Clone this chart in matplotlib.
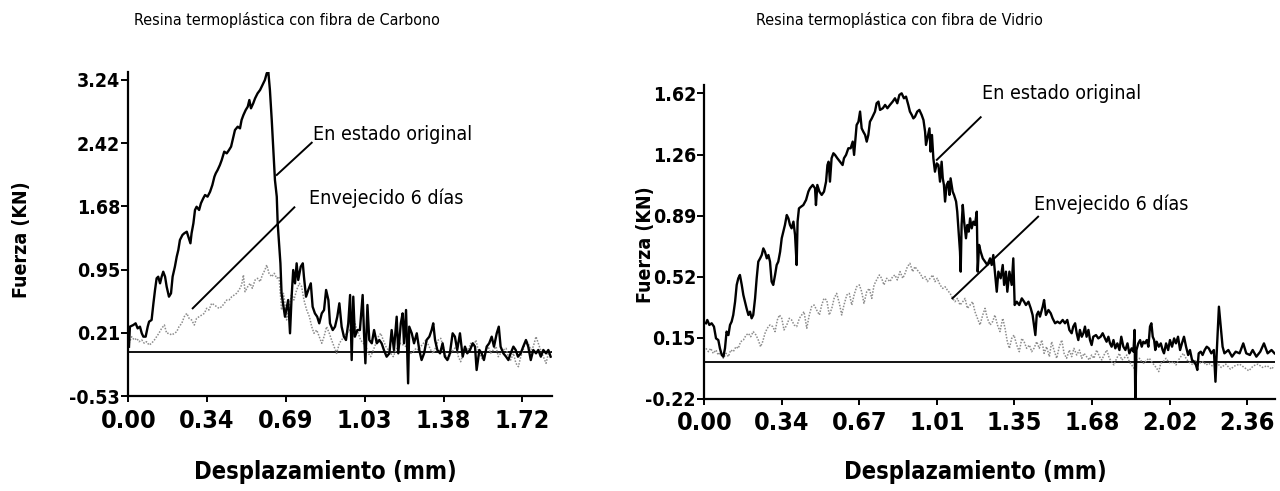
import matplotlib
matplotlib.use("Agg")
import matplotlib.pyplot as plt
from matplotlib import font_manager

W, H = 1280, 491

# --- data: (desplazamiento mm, fuerza KN) ---
carbono_original = [
    (0.003, 0.058), (0.007, 0.297), (0.022, 0.317), (0.032, 0.337), (0.041, 0.277), (0.051, 0.297),
    (0.059, 0.218), (0.066, 0.178), (0.076, 0.178), (0.085, 0.297), (0.091, 0.357), (0.102, 0.377),
    (0.110, 0.576), (0.117, 0.735), (0.124, 0.874), (0.131, 0.893), (0.139, 0.814), (0.146, 0.893),
    (0.153, 0.953), (0.161, 0.893), (0.168, 0.774), (0.178, 0.655), (0.187, 0.695), (0.194, 0.893),
    (0.204, 1.013), (0.212, 1.132), (0.219, 1.212), (0.226, 1.331), (0.237, 1.391), (0.245, 1.411),
    (0.256, 1.430), (0.263, 1.370), (0.272, 1.292), (0.277, 1.411), (0.285, 1.530), (0.292, 1.689),
    (0.299, 1.728), (0.310, 1.689), (0.318, 1.769), (0.328, 1.828), (0.336, 1.868), (0.347, 1.848),
    (0.358, 1.907), (0.368, 1.987), (0.377, 2.086), (0.383, 2.127), (0.391, 2.166), (0.401, 2.226),
    (0.409, 2.285), (0.420, 2.385), (0.431, 2.365), (0.441, 2.405), (0.450, 2.445), (0.460, 2.564),
    (0.467, 2.643), (0.479, 2.683), (0.489, 2.663), (0.496, 2.763), (0.504, 2.822), (0.514, 2.882),
    (0.523, 2.922), (0.530, 3.001), (0.537, 2.902), (0.547, 2.962), (0.555, 3.021), (0.566, 3.081),
    (0.577, 3.121), (0.584, 3.160), (0.591, 3.200), (0.598, 3.240), (0.606, 3.320), (0.613, 3.340),
    (0.620, 3.121), (0.628, 2.763), (0.635, 2.405), (0.642, 2.047), (0.650, 1.848), (0.654, 1.530),
    (0.660, 1.292), (0.666, 1.053), (0.671, 0.695), (0.686, 0.416), (0.700, 0.615), (0.708, 0.218),
    (0.715, 0.655), (0.722, 0.973), (0.730, 0.814), (0.737, 1.053), (0.744, 0.854), (0.755, 1.013),
    (0.764, 1.053), (0.769, 0.893), (0.778, 0.655), (0.788, 0.735), (0.799, 0.814), (0.807, 0.535),
    (0.817, 0.456), (0.827, 0.416), (0.836, 0.337), (0.847, 0.456), (0.857, 0.496), (0.866, 0.735),
    (0.876, 0.615), (0.883, 0.337), (0.895, 0.257), (0.905, 0.297), (0.915, 0.416), (0.924, 0.576),
    (0.934, 0.297), (0.944, 0.178), (0.953, 0.138), (0.963, 0.337), (0.971, 0.675), (0.978, -0.101),
    (0.985, 0.655), (0.992, 0.178), (1.003, 0.257), (1.014, 0.257), (1.026, 0.675), (1.032, 0.218),
    (1.038, -0.140), (1.047, 0.556), (1.055, 0.138), (1.066, 0.099), (1.076, 0.257), (1.088, 0.099),
    (1.099, 0.138), (1.109, 0.099), (1.119, 0.019), (1.131, -0.061), (1.143, -0.021), (1.153, 0.257),
    (1.163, 0.019), (1.175, 0.416), (1.182, -0.021), (1.193, 0.337), (1.201, 0.456), (1.207, 0.099),
    (1.216, 0.496), (1.225, -0.379), (1.230, 0.297), (1.241, 0.218), (1.251, 0.099), (1.263, 0.218),
    (1.274, 0.019), (1.284, -0.101), (1.295, -0.021), (1.306, 0.138), (1.318, 0.178), (1.328, 0.257),
    (1.335, 0.337), (1.343, 0.138), (1.353, 0.019), (1.365, -0.021), (1.376, 0.099), (1.386, -0.061),
    (1.397, -0.101), (1.408, -0.021), (1.420, 0.218), (1.430, 0.178), (1.440, 0.019), (1.452, 0.218),
    (1.464, -0.061), (1.474, 0.059), (1.484, -0.021), (1.496, 0.019), (1.508, 0.099), (1.518, 0.059),
    (1.525, -0.220), (1.537, 0.019), (1.547, -0.021), (1.557, -0.101), (1.569, 0.059), (1.580, 0.099),
    (1.591, 0.178), (1.601, 0.059), (1.613, 0.218), (1.622, 0.297), (1.630, 0.059), (1.642, -0.021),
    (1.654, -0.061), (1.664, -0.101), (1.674, -0.021), (1.686, 0.059), (1.696, 0.019), (1.706, -0.061),
    (1.718, -0.021), (1.729, 0.059), (1.741, 0.138), (1.751, 0.059), (1.762, -0.101), (1.773, 0.019),
    (1.785, -0.021), (1.795, 0.019), (1.806, -0.061), (1.817, 0.019), (1.829, -0.021), (1.839, 0.019),
    (1.849, -0.061),
]

carbono_envejecido = [
    (0.003, 0.099), (0.015, 0.178), (0.026, 0.138), (0.037, 0.158), (0.047, 0.118), (0.059, 0.138),
    (0.070, 0.099), (0.080, 0.118), (0.091, 0.078), (0.102, 0.099), (0.114, 0.138), (0.124, 0.178),
    (0.134, 0.218), (0.146, 0.277), (0.158, 0.317), (0.168, 0.218), (0.178, 0.218), (0.190, 0.198),
    (0.202, 0.218), (0.212, 0.237), (0.222, 0.297), (0.234, 0.337), (0.245, 0.416), (0.256, 0.456),
    (0.266, 0.397), (0.277, 0.377), (0.289, 0.317), (0.299, 0.397), (0.310, 0.416), (0.321, 0.436),
    (0.333, 0.456), (0.343, 0.516), (0.353, 0.496), (0.365, 0.576), (0.377, 0.556), (0.387, 0.535),
    (0.397, 0.516), (0.409, 0.535), (0.420, 0.576), (0.431, 0.615), (0.441, 0.615), (0.453, 0.655),
    (0.464, 0.675), (0.474, 0.695), (0.485, 0.735), (0.496, 0.794), (0.504, 0.914), (0.511, 0.714),
    (0.523, 0.774), (0.533, 0.814), (0.543, 0.755), (0.555, 0.854), (0.566, 0.874), (0.577, 0.834),
    (0.587, 0.914), (0.598, 0.973), (0.606, 1.033), (0.616, 0.934), (0.628, 0.893), (0.639, 0.934),
    (0.650, 0.874), (0.660, 0.893), (0.671, 0.496), (0.679, 0.695), (0.686, 0.576), (0.693, 0.377),
    (0.705, 0.535), (0.715, 0.695), (0.725, 0.615), (0.737, 0.735), (0.749, 0.814), (0.759, 0.774),
    (0.769, 0.615), (0.781, 0.496), (0.793, 0.416), (0.803, 0.297), (0.813, 0.218), (0.825, 0.257),
    (0.836, 0.178), (0.847, 0.099), (0.857, 0.178), (0.868, 0.297), (0.880, 0.218), (0.890, 0.138),
    (0.901, 0.059), (0.912, -0.021), (0.924, 0.099), (0.934, 0.138), (0.944, 0.178), (0.956, 0.218),
    (0.968, 0.257), (0.978, 0.218), (0.988, 0.377), (0.997, 0.297), (1.007, 0.218), (1.017, 0.138),
    (1.029, 0.099), (1.041, 0.059), (1.051, -0.021), (1.061, -0.061), (1.073, 0.019), (1.084, 0.099),
    (1.095, 0.178), (1.105, 0.218), (1.116, 0.138), (1.128, 0.059), (1.138, 0.019), (1.149, -0.021),
    (1.160, -0.061), (1.172, 0.019), (1.182, 0.059), (1.192, 0.099), (1.204, 0.078), (1.216, 0.059),
    (1.226, 0.019), (1.236, -0.021), (1.248, -0.001), (1.260, 0.039), (1.270, 0.019), (1.280, 0.059),
    (1.292, 0.099), (1.303, 0.138), (1.314, 0.078), (1.324, 0.019), (1.335, -0.021), (1.347, 0.059),
    (1.357, 0.138), (1.368, 0.158), (1.379, 0.059), (1.391, -0.061), (1.401, -0.101), (1.411, -0.021),
    (1.423, 0.019), (1.435, 0.059), (1.445, -0.061), (1.455, -0.121), (1.467, -0.021), (1.478, 0.039),
    (1.489, 0.019), (1.499, 0.099), (1.511, 0.059), (1.522, 0.138), (1.532, 0.019), (1.543, -0.061),
    (1.554, -0.101), (1.566, 0.019), (1.576, 0.059), (1.586, -0.021), (1.598, 0.019), (1.610, 0.059),
    (1.620, -0.061), (1.630, -0.021), (1.642, 0.019), (1.654, 0.039), (1.664, -0.061), (1.674, -0.101),
    (1.686, -0.021), (1.697, -0.140), (1.708, -0.180), (1.718, -0.061), (1.729, 0.019), (1.741, 0.138),
    (1.751, 0.099), (1.762, 0.019), (1.773, 0.059), (1.785, 0.178), (1.795, 0.099), (1.805, 0.019),
    (1.817, -0.061), (1.829, -0.140), (1.839, -0.021), (1.849, 0.019),
]

vidrio_original = [
    (0.007, 0.236), (0.013, 0.256), (0.022, 0.226), (0.032, 0.236), (0.042, 0.216), (0.051, 0.145),
    (0.061, 0.135), (0.068, 0.085), (0.076, 0.045), (0.083, 0.035), (0.090, 0.085), (0.097, 0.186),
    (0.105, 0.165), (0.112, 0.226), (0.119, 0.246), (0.126, 0.286), (0.134, 0.366), (0.141, 0.467),
    (0.148, 0.507), (0.155, 0.527), (0.163, 0.467), (0.170, 0.406), (0.177, 0.366), (0.184, 0.326),
    (0.192, 0.286), (0.199, 0.306), (0.206, 0.266), (0.213, 0.286), (0.221, 0.386), (0.228, 0.507),
    (0.235, 0.607), (0.243, 0.627), (0.250, 0.647), (0.257, 0.687), (0.264, 0.667), (0.272, 0.627),
    (0.279, 0.647), (0.286, 0.607), (0.293, 0.487), (0.300, 0.467), (0.308, 0.527), (0.315, 0.587),
    (0.322, 0.607), (0.330, 0.667), (0.337, 0.748), (0.344, 0.788), (0.351, 0.828), (0.359, 0.888),
    (0.366, 0.868), (0.373, 0.828), (0.380, 0.808), (0.388, 0.848), (0.395, 0.768), (0.402, 0.587),
    (0.406, 0.848), (0.412, 0.928), (0.421, 0.938), (0.431, 0.948), (0.443, 0.979), (0.453, 1.029),
    (0.460, 1.049), (0.472, 1.069), (0.482, 1.049), (0.486, 0.948), (0.492, 1.069), (0.501, 1.029),
    (0.511, 1.009), (0.521, 1.029), (0.530, 1.089), (0.536, 1.189), (0.541, 1.209), (0.547, 1.089),
    (0.554, 1.230), (0.562, 1.260), (0.569, 1.250), (0.579, 1.230), (0.591, 1.209), (0.602, 1.189),
    (0.608, 1.230), (0.617, 1.250), (0.627, 1.290), (0.637, 1.290), (0.646, 1.330), (0.652, 1.250),
    (0.657, 1.330), (0.663, 1.430), (0.671, 1.450), (0.678, 1.511), (0.685, 1.410), (0.692, 1.390),
    (0.700, 1.370), (0.707, 1.330), (0.714, 1.370), (0.721, 1.450), (0.729, 1.470), (0.736, 1.491),
    (0.743, 1.511), (0.750, 1.561), (0.758, 1.571), (0.765, 1.521), (0.777, 1.531), (0.787, 1.551),
    (0.797, 1.531), (0.808, 1.551), (0.820, 1.571), (0.830, 1.591), (0.840, 1.561), (0.849, 1.611),
    (0.859, 1.621), (0.869, 1.591), (0.878, 1.601), (0.888, 1.551), (0.895, 1.511), (0.903, 1.491),
    (0.910, 1.470), (0.917, 1.480), (0.927, 1.511), (0.936, 1.521), (0.946, 1.491), (0.954, 1.460),
    (0.961, 1.390), (0.965, 1.310), (0.971, 1.350), (0.980, 1.410), (0.985, 1.270), (0.991, 1.370),
    (0.997, 1.230), (1.004, 1.149), (1.012, 1.199), (1.019, 1.189), (1.026, 1.089), (1.033, 1.209),
    (1.038, 1.109), (1.043, 1.069), (1.048, 0.969), (1.055, 1.069), (1.062, 1.089), (1.067, 1.009),
    (1.072, 1.109), (1.081, 1.029), (1.087, 1.009), (1.096, 0.969), (1.101, 0.908), (1.107, 0.788),
    (1.113, 0.667), (1.116, 0.547), (1.120, 0.828), (1.125, 0.949), (1.131, 0.848), (1.139, 0.748),
    (1.145, 0.828), (1.151, 0.788), (1.157, 0.868), (1.164, 0.808), (1.171, 0.848), (1.178, 0.828),
    (1.186, 0.908), (1.190, 0.547), (1.196, 0.708), (1.203, 0.667), (1.212, 0.627), (1.222, 0.607),
    (1.232, 0.587), (1.244, 0.627), (1.251, 0.587), (1.258, 0.647), (1.265, 0.547), (1.273, 0.426),
    (1.280, 0.547), (1.290, 0.507), (1.299, 0.587), (1.305, 0.467), (1.313, 0.547), (1.319, 0.426),
    (1.328, 0.547), (1.338, 0.467), (1.345, 0.627), (1.351, 0.346), (1.360, 0.366), (1.371, 0.346),
    (1.382, 0.386), (1.392, 0.366), (1.400, 0.346), (1.411, 0.366), (1.421, 0.326), (1.429, 0.286),
    (1.435, 0.226), (1.441, 0.165), (1.447, 0.286), (1.454, 0.306), (1.461, 0.276), (1.473, 0.336),
    (1.479, 0.376), (1.487, 0.286), (1.498, 0.316), (1.508, 0.296), (1.516, 0.266), (1.527, 0.236),
    (1.537, 0.246), (1.548, 0.236), (1.560, 0.256), (1.570, 0.236), (1.580, 0.256), (1.589, 0.196),
    (1.599, 0.176), (1.606, 0.216), (1.614, 0.236), (1.621, 0.176), (1.628, 0.135), (1.635, 0.196),
    (1.643, 0.155), (1.650, 0.176), (1.657, 0.216), (1.664, 0.155), (1.672, 0.196), (1.679, 0.135),
    (1.686, 0.105), (1.693, 0.155), (1.705, 0.165), (1.715, 0.145), (1.725, 0.155), (1.734, 0.176),
    (1.744, 0.145), (1.751, 0.125), (1.759, 0.155), (1.766, 0.115), (1.773, 0.095), (1.781, 0.135),
    (1.789, 0.085), (1.798, 0.115), (1.807, 0.075), (1.815, 0.155), (1.824, 0.095), (1.833, 0.075),
    (1.842, 0.115), (1.850, 0.055), (1.860, 0.085), (1.868, 0.065), (1.873, 0.196), (1.876, -0.226),
    (1.881, 0.075), (1.889, 0.115), (1.897, 0.135), (1.904, 0.095), (1.911, 0.125), (1.918, 0.115),
    (1.926, 0.135), (1.933, 0.095), (1.940, 0.216), (1.946, 0.236), (1.952, 0.155), (1.958, 0.135),
    (1.963, 0.075), (1.969, 0.125), (1.978, 0.095), (1.987, 0.115), (1.995, 0.075), (2.001, 0.055),
    (2.010, 0.115), (2.019, 0.075), (2.027, 0.135), (2.036, 0.095), (2.045, 0.145), (2.053, 0.115),
    (2.062, 0.155), (2.071, 0.075), (2.079, 0.115), (2.088, 0.155), (2.097, 0.095), (2.106, 0.045),
    (2.114, 0.075), (2.123, 0.015), (2.132, 0.005), (2.140, -0.015), (2.146, -0.045), (2.152, 0.055),
    (2.161, 0.065), (2.169, 0.045), (2.178, 0.075), (2.187, 0.095), (2.196, 0.085), (2.207, 0.055),
    (2.218, 0.075), (2.225, -0.116), (2.231, 0.075), (2.240, 0.336), (2.248, 0.216), (2.256, 0.095),
    (2.264, 0.055), (2.281, 0.075), (2.297, 0.035), (2.313, 0.065), (2.330, 0.055), (2.346, 0.115),
    (2.359, 0.055), (2.375, 0.045), (2.387, 0.075), (2.403, 0.035), (2.420, 0.065), (2.436, 0.115),
    (2.452, 0.055), (2.469, 0.075), (2.482, 0.055),
]

vidrio_envejecido = [
    (0.007, 0.085), (0.018, 0.065), (0.028, 0.085), (0.039, 0.055), (0.051, 0.075), (0.061, 0.045),
    (0.071, 0.065), (0.083, 0.025), (0.095, 0.055), (0.105, 0.035), (0.115, 0.075), (0.126, 0.065),
    (0.138, 0.095), (0.148, 0.085), (0.158, 0.125), (0.170, 0.135), (0.182, 0.165), (0.192, 0.175),
    (0.202, 0.155), (0.213, 0.186), (0.225, 0.165), (0.235, 0.135), (0.245, 0.095), (0.254, 0.125),
    (0.264, 0.175), (0.274, 0.206), (0.286, 0.226), (0.298, 0.216), (0.308, 0.186), (0.318, 0.256),
    (0.327, 0.286), (0.337, 0.266), (0.347, 0.196), (0.359, 0.226), (0.370, 0.266), (0.380, 0.256),
    (0.391, 0.226), (0.402, 0.216), (0.414, 0.266), (0.424, 0.286), (0.434, 0.306), (0.446, 0.206),
    (0.457, 0.286), (0.467, 0.336), (0.478, 0.346), (0.489, 0.316), (0.501, 0.286), (0.511, 0.346),
    (0.521, 0.386), (0.533, 0.376), (0.544, 0.286), (0.555, 0.326), (0.565, 0.386), (0.576, 0.416),
    (0.588, 0.356), (0.598, 0.286), (0.608, 0.346), (0.620, 0.406), (0.631, 0.416), (0.642, 0.346),
    (0.652, 0.406), (0.663, 0.456), (0.675, 0.467), (0.685, 0.426), (0.695, 0.356), (0.707, 0.426),
    (0.718, 0.446), (0.729, 0.386), (0.739, 0.467), (0.750, 0.497), (0.762, 0.527), (0.772, 0.507),
    (0.782, 0.467), (0.794, 0.507), (0.808, 0.487), (0.820, 0.517), (0.830, 0.527), (0.840, 0.497),
    (0.852, 0.547), (0.864, 0.507), (0.874, 0.537), (0.884, 0.577), (0.895, 0.597), (0.907, 0.547),
    (0.917, 0.577), (0.927, 0.557), (0.939, 0.537), (0.951, 0.507), (0.961, 0.517), (0.971, 0.487),
    (0.983, 0.507), (0.994, 0.527), (1.004, 0.487), (1.014, 0.507), (1.026, 0.467), (1.038, 0.446),
    (1.048, 0.456), (1.058, 0.436), (1.070, 0.416), (1.081, 0.386), (1.091, 0.366), (1.102, 0.386),
    (1.113, 0.346), (1.125, 0.366), (1.135, 0.386), (1.145, 0.326), (1.157, 0.346), (1.168, 0.366),
    (1.178, 0.306), (1.189, 0.266), (1.200, 0.226), (1.212, 0.286), (1.222, 0.326), (1.232, 0.266),
    (1.244, 0.226), (1.255, 0.246), (1.265, 0.286), (1.276, 0.226), (1.287, 0.186), (1.299, 0.266),
    (1.309, 0.206), (1.319, 0.125), (1.328, 0.085), (1.338, 0.145), (1.348, 0.165), (1.360, 0.105),
    (1.371, 0.065), (1.382, 0.145), (1.392, 0.125), (1.403, 0.085), (1.415, 0.105), (1.425, 0.065),
    (1.435, 0.085), (1.447, 0.125), (1.458, 0.085), (1.469, 0.135), (1.479, 0.055), (1.490, 0.095),
    (1.502, 0.035), (1.512, 0.125), (1.522, 0.075), (1.534, 0.025), (1.545, 0.095), (1.556, 0.135),
    (1.566, 0.055), (1.577, 0.025), (1.589, 0.075), (1.599, 0.035), (1.609, 0.085), (1.621, 0.045),
    (1.633, 0.075), (1.643, 0.025), (1.653, 0.055), (1.664, 0.035), (1.676, 0.015), (1.686, 0.045),
    (1.696, 0.025), (1.708, 0.075), (1.720, 0.035), (1.730, 0.015), (1.740, 0.045), (1.752, 0.075),
    (1.763, 0.025), (1.773, 0.005), (1.783, -0.015), (1.795, 0.025), (1.807, 0.055), (1.817, 0.015),
    (1.827, 0.025), (1.839, 0.045), (1.850, 0.005), (1.860, -0.015), (1.871, -0.035), (1.882, 0.015),
    (1.894, 0.025), (1.904, 0.005), (1.914, -0.005), (1.926, 0.015), (1.937, 0.025), (1.947, 0.005),
    (1.958, -0.015), (1.969, -0.035), (1.978, -0.055), (1.987, -0.005), (1.998, 0.005), (2.010, 0.025),
    (2.020, 0.005), (2.030, -0.005), (2.042, 0.005), (2.053, -0.015), (2.064, 0.015), (2.074, 0.035),
    (2.085, 0.055), (2.097, 0.025), (2.107, 0.005), (2.117, -0.005), (2.129, -0.015), (2.140, 0.015),
    (2.151, 0.005), (2.161, -0.005), (2.172, 0.005), (2.184, -0.015), (2.196, -0.005), (2.210, -0.020),
    (2.230, 0.000), (2.250, -0.030), (2.270, -0.010), (2.290, -0.040), (2.310, -0.020), (2.330, -0.010),
    (2.350, -0.030), (2.370, -0.050), (2.390, -0.020), (2.410, -0.010), (2.430, -0.030), (2.450, -0.020),
    (2.470, -0.040), (2.480, -0.020),
]

carbono_xticks = [0.0, 0.345, 0.69, 1.035, 1.38, 1.725]
carbono_xlabels = ["0.00", "0.34", "0.69", "1.03", "1.38", "1.72"]
carbono_yticks = [-0.53, 0.224, 0.978, 1.732, 2.486, 3.24]
carbono_ylabels = ["-0.53", "0.21", "0.95", "1.68", "2.42", "3.24"]

vidrio_xticks = [0.0, 0.3375, 0.675, 1.0125, 1.35, 1.6875, 2.025, 2.3625]
vidrio_xlabels = ["0.00", "0.34", "0.67", "1.01", "1.35", "1.68", "2.02", "2.36"]
vidrio_yticks = [-0.22, 0.148, 0.516, 0.884, 1.252, 1.62]
vidrio_ylabels = ["-0.22", "0.15", "0.52", "0.89", "1.26", "1.62"]

# --- fonts: narrow family if available, else condensed DejaVu ---
names = {f.name for f in font_manager.fontManager.ttflist}
narrow = "Liberation Sans Narrow" if "Liberation Sans Narrow" in names else "DejaVu Sans"
plt.rcParams["font.family"] = [narrow, "DejaVu Sans"]
plt.rcParams["font.stretch"] = "condensed"

fig = plt.figure(figsize=(W / 100, H / 100), dpi=100)


def px_axes(x0, y_top, x1, y_bot):
    return [x0 / W, 1 - y_bot / H, (x1 - x0) / W, (y_bot - y_top) / H]


def setup(ax, xlim, ylim, xt, xl, yt, yl):
    ax.set_xlim(*xlim)
    ax.set_ylim(*ylim)
    for s in ("top", "right"):
        ax.spines[s].set_visible(False)
    for s in ("left", "bottom"):
        ax.spines[s].set_linewidth(1.6)
    ax.axhline(0, color="black", lw=1.3, zorder=1)
    ax.set_xticks(xt)
    ax.set_xticklabels(xl, fontsize=18, fontweight="bold")
    ax.set_yticks(yt)
    ax.set_yticklabels(yl, fontsize=14, fontweight="bold")
    ax.tick_params(axis="x", direction="out", length=4, width=1.4, pad=5)
    ax.tick_params(axis="y", direction="out", length=5, width=1.4, pad=1)


def draw(ax, orig, aged):
    xs, ys = zip(*aged)
    ax.plot(xs, ys, color="0.55", lw=1.1, ls=(0, (1, 1)), zorder=2)
    xs, ys = zip(*orig)
    ax.plot(xs, ys, color="black", lw=1.7, zorder=3)


ax1 = fig.add_axes(px_axes(128.3, 71.7, 552, 396))
setup(ax1, (0, 1.855), (-0.53, 3.339), carbono_xticks, carbono_xlabels, carbono_yticks, carbono_ylabels)
draw(ax1, carbono_original, carbono_envejecido)
ax1.plot([0.650, 0.803], [2.107, 2.492], color="black", lw=1.4)
ax1.plot([0.282, 0.727], [0.516, 1.721], color="black", lw=1.4)
ax1.text(0.809, 2.584, "En estado original", fontsize=14, va="center", ha="left")
ax1.text(0.791, 1.832, "Envejecido 6 días", fontsize=14, va="center", ha="left")

ax2 = fig.add_axes(px_axes(704.3, 85, 1275.2, 399))
setup(ax2, (0, 2.485), (-0.22, 1.671), vidrio_xticks, vidrio_xlabels, vidrio_yticks, vidrio_ylabels)
draw(ax2, vidrio_original, vidrio_envejecido)
ax2.plot([1.012, 1.203], [1.220, 1.477], color="black", lw=1.4)
ax2.plot([1.080, 1.453], [0.386, 0.878], color="black", lw=1.4)
ax2.text(1.208, 1.621, "En estado original", fontsize=14, va="center", ha="left")
ax2.text(1.437, 0.954, "Envejecido 6 días", fontsize=14, va="center", ha="left")

# titles and axis labels
fig.text(287 / W, 1 - 20 / H, "Resina termoplástica con fibra de Carbono", fontsize=11.5, ha="center", va="center")
fig.text(899 / W, 1 - 20 / H, "Resina termoplástica con fibra de Vidrio", fontsize=11.5, ha="center", va="center")
fig.text(325 / W, 1 - 472 / H, "Desplazamiento (mm)", fontsize=17, fontweight="bold", ha="center", va="center")
fig.text(975 / W, 1 - 472 / H, "Desplazamiento (mm)", fontsize=17, fontweight="bold", ha="center", va="center")
fig.text(22 / W, 1 - 240 / H, "Fuerza (KN)", fontsize=14, fontweight="bold", rotation=90, ha="center", va="center")
fig.text(646 / W, 1 - 245 / H, "Fuerza (KN)", fontsize=14, fontweight="bold", rotation=90, ha="center", va="center")

fig.savefig("out.png", dpi=100)
